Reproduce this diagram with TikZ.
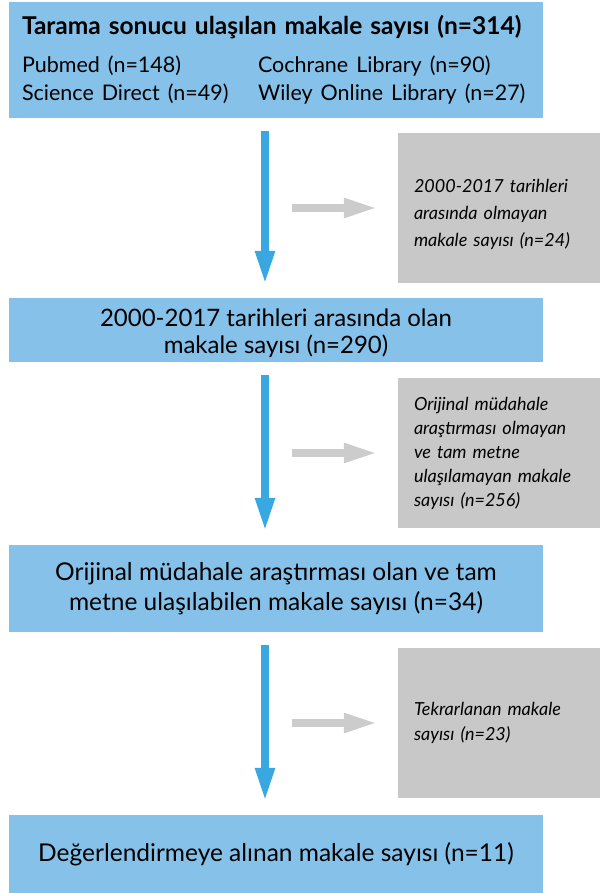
\documentclass[tikz,border=0pt]{standalone}
\usepackage{fontspec}
\setmainfont{Lato}
\usepackage{xcolor}
\usetikzlibrary{arrows.meta, positioning, calc}

\definecolor{boxblue}{RGB}{133,193,233}
\definecolor{arrowblue}{RGB}{58,168,224}
\definecolor{boxgray}{RGB}{200,200,200}
\definecolor{arrowgray}{RGB}{204,204,204}

\begin{document}
\begin{tikzpicture}[
    x=1pt, y=1pt,
    mainbox/.style={rectangle, fill=boxblue, minimum width=534pt,
                    inner sep=0pt, align=center, font=\fontsize{24}{27}\selectfont},
    sidebox/.style={rectangle, fill=boxgray, minimum width=202pt, minimum height=150pt,
                    inner xsep=16pt, text width=170pt, align=left,
                    font=\itshape\fontsize{18}{25}\selectfont},
    downarrow/.style={-{Triangle[length=34pt, width=18pt]}, line width=8pt, arrowblue,
                      shorten <=13pt, shorten >=13pt},
    sidearrow/.style={-{Triangle[length=34pt, width=18pt]}, line width=8pt, arrowgray,
                      shorten >=20pt}
]
\useasboundingbox (0,0) rectangle (602,-893);

% main column
\node[mainbox, minimum height=116pt, inner xsep=13pt, text width=508pt, align=left] (search) at (276,-60)
  {\rule{0pt}{24pt}\mbox{\fontsize{24.5}{28}\selectfont\bfseries Tarama sonucu ulaşılan makale sayısı (n=314)}\\[13pt]
   {\fontsize{21.5}{28}\selectfont
   \begin{tabular}{@{}p{236pt}@{}l@{}}
   Pubmed (n=148) & Cochrane Library (n=90)\\
   Science Direct (n=49) & Wiley Online Library (n=27)
   \end{tabular}}};
\node[mainbox, minimum height=64pt] (dates) at (276,-330)
  {\rule{0pt}{24pt}2000-2017 tarihleri arasında olan\\makale sayısı (n=290)};
\node[mainbox, minimum height=87pt, font=\fontsize{24.5}{30}\selectfont] (original) at (276,-588.5)
  {Orijinal müdahale araştırması olan ve tam\\metne ulaşılabilen makale sayısı (n=34)};
\node[mainbox, minimum height=78pt, font=\fontsize{24.5}{30}\selectfont] (final) at (276,-854)
  {Değerlendirmeye alınan makale sayısı (n=11)};

% excluded
\node[sidebox, font=\itshape\fontsize{18}{27}\selectfont] (excl1) at (499,-208)
  {\rule{0pt}{26pt}2000-2017 tarihleri\\arasında olmayan\\makale sayısı (n=24)};
\node[sidebox, font=\itshape\fontsize{18}{24}\selectfont] (excl2) at (499,-453)
  {Orijinal müdahale\\araştırması olmayan\\ve tam metne\\ulaşılamayan makale\\sayısı (n=256)};
\node[sidebox] (excl3) at (499,-723)
  {Tekrarlanan makale\\sayısı (n=23)};

% arrows
\draw[downarrow] (search.south -| 265,0) -- (dates.north -| 265,0);
\draw[downarrow] (dates.south -| 265,0) -- (original.north -| 265,0);
\draw[downarrow] (original.south -| 265,0) -- (final.north -| 265,0);

\draw[sidearrow] (292,0 |- excl1.west) -- (excl1.west);
\draw[sidearrow] (292,0 |- excl2.west) -- (excl2.west);
\draw[sidearrow] (292,0 |- excl3.west) -- (excl3.west);

\end{tikzpicture}
\end{document}
